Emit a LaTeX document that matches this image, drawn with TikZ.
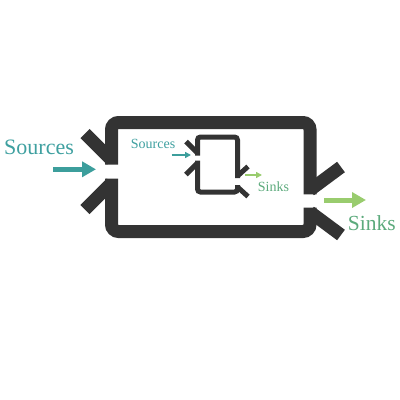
\documentclass[tikz,border=0pt]{standalone}
\usepackage{fontspec}
\setmainfont{Liberation Serif}
\usetikzlibrary{arrows.meta}
\definecolor{wall}{HTML}{333333}
\definecolor{teal1}{HTML}{3C9E9C}
\definecolor{tealtxt}{HTML}{3FA0A0}
\definecolor{green1}{HTML}{99CC6E}
\definecolor{greentxt}{HTML}{5CAA7C}
\tikzset{
  bigwall/.style={draw=wall, line width=13pt, line cap=butt, rounded corners=7pt},
  bigdiag/.style={draw=wall, line width=13pt, line cap=butt},
  smallwall/.style={draw=wall, line width=5pt, line cap=butt, rounded corners=3pt},
  smalldiag/.style={draw=wall, line width=5pt, line cap=butt},
  bigsrc/.style={draw=teal1, line width=5.5pt, -{Triangle[length=14pt,width=15pt]}},
  bigsink/.style={draw=green1, line width=5pt, -{Triangle[length=14pt,width=15pt]}},
  smallsrc/.style={draw=teal1, line width=2pt, -{Triangle[length=6pt,width=6pt]}},
  smallsink/.style={draw=green1, line width=2pt, -{Triangle[length=6pt,width=6pt]}},
  lbl/.style={inner sep=0pt, anchor=base west}
}
\begin{document}
\begin{tikzpicture}[x=1pt, y=-1pt]
\useasboundingbox (0,0) rectangle (400,400);
% outer container
\coordinate (oa) at (111.5,164.5);
\coordinate (ob) at (111.5,122.5);
\coordinate (oc) at (310,122.5);
\coordinate (od) at (310,194.3);
\coordinate (oe) at (310,207.7);
\coordinate (of) at (310,231.5);
\coordinate (og) at (111.5,231.5);
\coordinate (oh) at (111.5,178.5);
\draw[bigwall] (oa) -- (ob) -- (oc) -- (od);
\draw[bigwall] (oe) -- (of) -- (og) -- (oh);
% chevrons
\coordinate (l1a) at (85,133.5);  \coordinate (l1b) at (111.5,160);
\coordinate (l2a) at (85,209.5);  \coordinate (l2b) at (111.5,183);
\coordinate (r1a) at (341,167);   \coordinate (r1b) at (310,190);
\coordinate (r2a) at (341,235);   \coordinate (r2b) at (310,212);
\draw[bigdiag] (l1a) -- (l1b);
\draw[bigdiag] (l2a) -- (l2b);
\draw[bigdiag] (r1a) -- (r1b);
\draw[bigdiag] (r2a) -- (r2b);
% inner container
\coordinate (ia) at (197.5,155.5);
\coordinate (ib) at (197.5,137);
\coordinate (ic) at (237.5,137);
\coordinate (id) at (237.5,178);
\coordinate (ie) at (237.5,185);
\coordinate (if) at (237.5,192);
\coordinate (ig) at (197.5,192);
\coordinate (ih) at (197.5,160.5);
\draw[smallwall] (ia) -- (ib) -- (ic) -- (id);
\draw[smallwall] (ie) -- (if) -- (ig) -- (ih);
\coordinate (s1a) at (186,141.5); \coordinate (s1b) at (197.5,153);
\coordinate (s2a) at (186,174.5); \coordinate (s2b) at (197.5,163);
\coordinate (s3a) at (248,166.5); \coordinate (s3b) at (237.5,176);
\coordinate (s4a) at (248,196.5); \coordinate (s4b) at (237.5,187);
\draw[smalldiag] (s1a) -- (s1b);
\draw[smalldiag] (s2a) -- (s2b);
\draw[smalldiag] (s3a) -- (s3b);
\draw[smalldiag] (s4a) -- (s4b);
% arrows
\coordinate (srcA) at (53,169.3);   \coordinate (srcB) at (96,169.3);
\coordinate (snkA) at (324,200);    \coordinate (snkB) at (366,200);
\coordinate (ssrcA) at (171.7,155); \coordinate (ssrcB) at (191,155);
\coordinate (ssnkA) at (245,175);   \coordinate (ssnkB) at (262,175);
\draw[bigsrc] (srcA) -- (srcB);
\draw[bigsink] (snkA) -- (snkB);
\draw[smallsrc] (ssrcA) -- (ssrcB);
\draw[smallsink] (ssnkA) -- (ssnkB);
% labels
\node[lbl, text=tealtxt, font=\fontsize{22}{24}\selectfont] (tsrc) at (4,154.5) {Sources};
\node[lbl, text=greentxt, font=\fontsize{21.5}{24}\selectfont] (tsnk) at (347.7,230) {Sinks};
\node[lbl, text=tealtxt, font=\fontsize{14}{16}\selectfont] (tssrc) at (130.7,148.8) {Sources};
\node[lbl, text=greentxt, font=\fontsize{14}{16}\selectfont] (tssnk) at (257.7,191) {Sinks};
\end{tikzpicture}
\end{document}
